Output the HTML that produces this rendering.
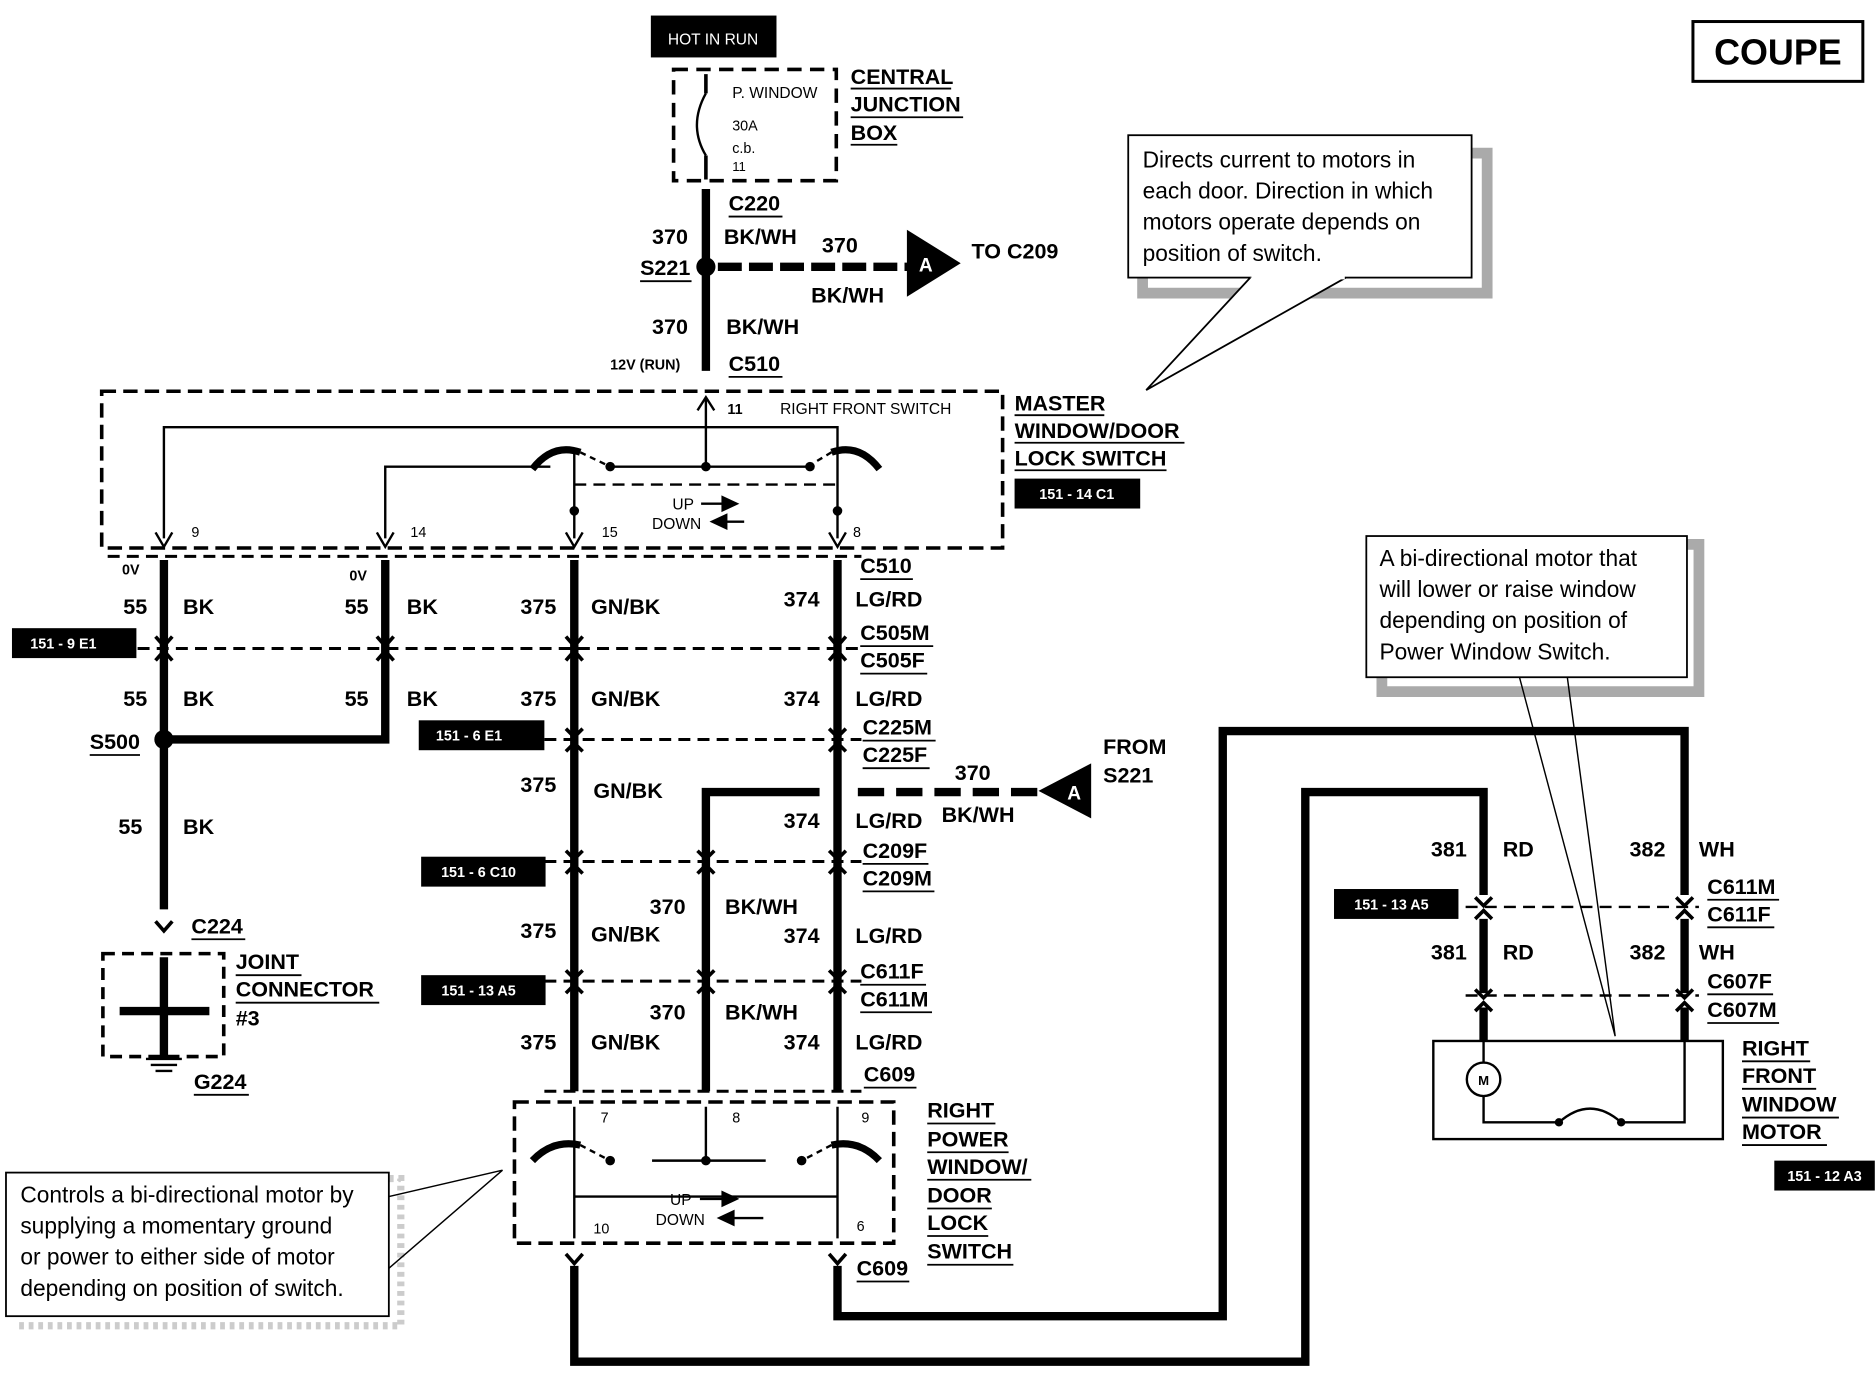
<!DOCTYPE html>
<html><head><meta charset="utf-8"><style>
html,body{margin:0;padding:0;background:#fff}
svg{display:block}
text{font-family:"Liberation Sans",Arial,sans-serif;font-weight:bold;fill:#000}
.n{font-weight:normal}
</style></head><body>
<svg width="1876" height="1376" viewBox="0 0 1568 1150" preserveAspectRatio="none" xmlns="http://www.w3.org/2000/svg">
<rect width="1568" height="1150" fill="#fff"/>
<rect x="1415" y="18" width="142" height="50" fill="none" stroke="#000" stroke-width="2.5"/>
<text x="1486" y="54" font-size="30" text-anchor="middle">COUPE</text>
<rect x="544" y="13" width="105" height="35" fill="#000"/>
<text x="596" y="37" font-size="13" style="fill:#fff" text-anchor="middle" class="n">HOT IN RUN</text>
<rect x="563" y="58" width="136" height="93" fill="none" stroke="#000" stroke-width="3" stroke-dasharray="12,7"/>
<path d="M590 62 L590 78 M590 130 L590 150" stroke="#000" stroke-width="3"/>
<path d="M590 78 Q575 105 590 130" stroke="#000" stroke-width="2" fill="none"/>
<text x="612" y="82" font-size="13" class="n">P. WINDOW</text>
<text x="612" y="109" font-size="12" class="n">30A</text>
<text x="612" y="128" font-size="12" class="n">c.b.</text>
<text x="612" y="143" font-size="11" class="n">11</text>
<text x="711" y="70" font-size="18">CENTRAL</text>
<text x="711" y="93" font-size="18">JUNCTION</text>
<text x="711" y="117" font-size="18">BOX</text>
<path d="M711 74H795M711 98H805M711 121H750" stroke="#000" stroke-width="1.5"/>
<path d="M590 158 V310" stroke="#000" stroke-width="7"/>
<circle cx="590" cy="223" r="8" fill="#000"/>
<path d="M600 223 H760" stroke="#000" stroke-width="7" stroke-dasharray="20,6"/>
<path d="M758 192 L803 220 L758 248Z" fill="#000"/>
<text x="768" y="227" font-size="16" style="fill:#fff">A</text>
<text x="812" y="216" font-size="18">TO C209</text>
<text x="609" y="176" font-size="18">C220</text>
<path d="M609 181H654" stroke="#000" stroke-width="1.5"/>
<text x="545" y="204" font-size="18">370</text>
<text x="605" y="204" font-size="18">BK/WH</text>
<text x="687" y="211" font-size="18">370</text>
<text x="678" y="253" font-size="18">BK/WH</text>
<text x="535" y="230" font-size="18">S221</text>
<path d="M535 235H578" stroke="#000" stroke-width="1.5"/>
<text x="545" y="279" font-size="18">370</text>
<text x="607" y="279" font-size="18">BK/WH</text>
<text x="510" y="309" font-size="12">12V (RUN)</text>
<text x="609" y="310" font-size="18">C510</text>
<path d="M609 315H654" stroke="#000" stroke-width="1.5"/>
<path d="M1230 128 L1243 128 L1243 245 L955 245 L955 232" fill="none" stroke="#aaa" stroke-width="9"/>
<rect x="943" y="113" width="287" height="119" fill="#fff" stroke="#000" stroke-width="1.5"/>
<path d="M1045 232 L958 326 L1125 232" fill="#fff" stroke="#000" stroke-width="1.5"/>
<path d="M1046 232 H1124" stroke="#fff" stroke-width="3"/>
<text x="955" y="140" font-size="19" class="n">Directs current to motors in</text>
<text x="955" y="166" font-size="19" class="n">each door. Direction in which</text>
<text x="955" y="192" font-size="19" class="n">motors operate depends on</text>
<text x="955" y="218" font-size="19" class="n">position of switch.</text>
<rect x="85" y="327" width="753" height="131" fill="none" stroke="#000" stroke-width="3" stroke-dasharray="12,6"/>
<path d="M590 333 V390" stroke="#000" stroke-width="2"/>
<path d="M583 343 L590 332 L597 343" fill="none" stroke="#000" stroke-width="2"/>
<text x="608" y="346" font-size="12">11</text>
<text x="652" y="346" font-size="13" class="n">RIGHT FRONT SWITCH</text>
<path d="M137 450 V357 H700 V380 M322 450 V390 H460 M510 390 H680 M480 378 V450 M700 380 V450" fill="none" stroke="#000" stroke-width="2"/>
<path d="M480 405 H700" stroke="#000" stroke-width="2" stroke-dasharray="10,6"/>
<path d="M445 392 Q462 370 485 378" stroke="#000" stroke-width="6" fill="none"/>
<path d="M485 378 L510 390" stroke="#000" stroke-width="2" stroke-dasharray="5,4"/>
<path d="M735 392 Q718 370 695 378" stroke="#000" stroke-width="6" fill="none"/>
<path d="M695 378 L675 390" stroke="#000" stroke-width="2" stroke-dasharray="5,4"/>
<circle cx="510" cy="390" r="4"/><circle cx="590" cy="390" r="4"/><circle cx="677" cy="390" r="4"/>
<circle cx="480" cy="427" r="4"/><circle cx="700" cy="427" r="4"/>
<path d="M130 445 L137 457 L144 445 M315 445 L322 457 L329 445 M473 445 L480 457 L487 445 M693 445 L700 457 L707 445" fill="none" stroke="#000" stroke-width="2"/>
<text x="562" y="426" font-size="13" class="n">UP</text>
<text x="545" y="442" font-size="13" class="n">DOWN</text>
<path d="M586 421 H605" stroke="#000" stroke-width="2"/><path d="M603 414 L618 421 L603 428Z"/>
<path d="M622 436 H607" stroke="#000" stroke-width="2"/><path d="M608 429 L593 436 L608 443Z"/>
<text x="160" y="449" font-size="12" class="n">9</text>
<text x="343" y="449" font-size="12" class="n">14</text>
<text x="503" y="449" font-size="12" class="n">15</text>
<text x="713" y="449" font-size="12" class="n">8</text>
<text x="848" y="343" font-size="18">MASTER</text>
<text x="848" y="366" font-size="18">WINDOW/DOOR</text>
<text x="848" y="389" font-size="18">LOCK SWITCH</text>
<path d="M848 347H923M848 370H990M848 393H975" stroke="#000" stroke-width="1.5"/>
<rect x="848" y="400" width="105" height="25" fill="#000"/>
<text x="900" y="417" font-size="12" style="fill:#fff" text-anchor="middle">151 - 14 C1</text>
<g stroke="#000" stroke-width="2.5" stroke-dasharray="10,6" fill="none">
<path d="M90 465 H720"/>
<path d="M115 542 H720"/>
<path d="M455 618 H720"/>
<path d="M455 720 H720"/>
<path d="M455 820 H720"/>
<path d="M455 912 H720"/>
</g>
<g stroke="#000" stroke-width="7" fill="none">
<path d="M137 468 V760"/>
<path d="M322 468 V618 H137"/>
<path d="M480 468 V912"/>
<path d="M700 468 V912"/>
<path d="M590 912 V662 H685"/>
</g>
<path d="M717 662 H868" stroke="#000" stroke-width="7" stroke-dasharray="22,10"/>
<path d="M912 638 L868 661 L912 684Z"/>
<text x="892" y="668" font-size="16" style="fill:#fff">A</text>
<text x="922" y="630" font-size="18">FROM</text>
<text x="922" y="654" font-size="18">S221</text>
<text x="798" y="652" font-size="18">370</text>
<text x="787" y="687" font-size="18">BK/WH</text>
<circle cx="137" cy="618" r="8"/>
<g stroke="#000" stroke-width="3" fill="none">
<path d="M130 532 L137 540 L144 532 M130 552 L137 544 L144 552"/>
<path d="M315 532 L322 540 L329 532 M315 552 L322 544 L329 552"/>
<path d="M473 532 L480 540 L487 532 M473 552 L480 544 L487 552"/>
<path d="M693 532 L700 540 L707 532 M693 552 L700 544 L707 552"/>
<path d="M473 609 L480 616 L487 609 M473 628 L480 621 L487 628"/>
<path d="M693 609 L700 616 L707 609 M693 628 L700 621 L707 628"/>
<path d="M473 711 L480 718 L487 711 M473 730 L480 723 L487 730"/>
<path d="M583 711 L590 718 L597 711 M583 730 L590 723 L597 730"/>
<path d="M693 711 L700 718 L707 711 M693 730 L700 723 L707 730"/>
<path d="M473 811 L480 818 L487 811 M473 830 L480 823 L487 830"/>
<path d="M583 811 L590 818 L597 811 M583 830 L590 823 L597 830"/>
<path d="M693 811 L700 818 L707 811 M693 830 L700 823 L707 830"/>
</g>
<g font-size="18">
<text x="102" y="480" font-size="12">0V</text>
<text x="292" y="485" font-size="12">0V</text>
<text x="103" y="513">55</text><text x="153" y="513">BK</text>
<text x="288" y="513">55</text><text x="340" y="513">BK</text>
<text x="435" y="513">375</text><text x="494" y="513">GN/BK</text>
<text x="655" y="507">374</text><text x="715" y="507">LG/RD</text>
<text x="719" y="479">C510</text>
<text x="719" y="535">C505M</text>
<text x="719" y="558">C505F</text>
<text x="103" y="590">55</text><text x="153" y="590">BK</text>
<text x="288" y="590">55</text><text x="340" y="590">BK</text>
<text x="435" y="590">375</text><text x="494" y="590">GN/BK</text>
<text x="655" y="590">374</text><text x="715" y="590">LG/RD</text>
<text x="721" y="614">C225M</text>
<text x="721" y="637">C225F</text>
<text x="75" y="626">S500</text>
<text x="99" y="697">55</text><text x="153" y="697">BK</text>
<text x="435" y="662">375</text><text x="496" y="667">GN/BK</text>
<text x="655" y="692">374</text><text x="715" y="692">LG/RD</text>
<text x="721" y="717">C209F</text>
<text x="721" y="740">C209M</text>
<text x="160" y="780">C224</text>
<text x="543" y="764">370</text><text x="606" y="764">BK/WH</text>
<text x="435" y="784">375</text><text x="494" y="787">GN/BK</text>
<text x="655" y="788">374</text><text x="715" y="788">LG/RD</text>
<text x="719" y="818">C611F</text>
<text x="719" y="841">C611M</text>
<text x="543" y="852">370</text><text x="606" y="852">BK/WH</text>
<text x="435" y="877">375</text><text x="494" y="877">GN/BK</text>
<text x="655" y="877">374</text><text x="715" y="877">LG/RD</text>
<text x="722" y="904">C609</text>
<text x="197" y="810">JOINT</text>
<text x="197" y="833">CONNECTOR</text>
<text x="197" y="857">#3</text>
<text x="162" y="910">G224</text>
</g>
<path d="M719 484H763M719 540H780M719 563H775M721 619H782M721 642H777M75 631H117M721 722H776M721 745H781M160 785H205M719 823H774M719 846H779M722 909H766M197 815H252M197 838H317M162 915H208" stroke="#000" stroke-width="1.5"/>
<g fill="#000">
<rect x="10" y="525" width="104" height="25"/>
<rect x="350" y="602" width="105" height="25"/>
<rect x="352" y="716" width="104" height="25"/>
<rect x="352" y="815" width="104" height="25"/>
<rect x="1115" y="743" width="104" height="25"/>
<rect x="1483" y="970" width="84" height="25"/>
</g>
<g font-size="12" text-anchor="middle">
<text x="53" y="542" style="fill:#fff">151 - 9 E1</text>
<text x="392" y="619" style="fill:#fff">151 - 6 E1</text>
<text x="400" y="733" style="fill:#fff">151 - 6 C10</text>
<text x="400" y="832" style="fill:#fff">151 - 13 A5</text>
<text x="1163" y="760" style="fill:#fff">151 - 13 A5</text>
<text x="1525" y="987" style="fill:#fff">151 - 12 A3</text>
</g>
<rect x="86" y="797" width="101" height="86" fill="none" stroke="#000" stroke-width="3" stroke-dasharray="10,6"/>
<path d="M137 800 V885 M100 845 H175" stroke="#000" stroke-width="7"/>
<path d="M130 770 L137 778 L144 770" stroke="#000" stroke-width="3" fill="none"/>
<path d="M122 885 H152 M126 890 H148 M130 895 H144" stroke="#000" stroke-width="2"/>
<rect x="430" y="921" width="317" height="118" fill="none" stroke="#000" stroke-width="3" stroke-dasharray="12,6"/>
<path d="M480 925 V1035 M700 925 V1035 M590 925 V970 M545 970 H640 M480 1000 H700" stroke="#000" stroke-width="2" fill="none"/>
<path d="M445 970 Q462 952 485 957" stroke="#000" stroke-width="6" fill="none"/>
<path d="M485 957 L510 970" stroke="#000" stroke-width="2" stroke-dasharray="5,4"/>
<path d="M735 970 Q718 952 695 957" stroke="#000" stroke-width="6" fill="none"/>
<path d="M695 957 L670 970" stroke="#000" stroke-width="2" stroke-dasharray="5,4"/>
<circle cx="510" cy="970" r="4"/><circle cx="590" cy="970" r="4"/><circle cx="670" cy="970" r="4"/>
<text x="502" y="938" font-size="12" class="n">7</text>
<text x="612" y="938" font-size="12" class="n">8</text>
<text x="720" y="938" font-size="12" class="n">9</text>
<text x="496" y="1031" font-size="12" class="n">10</text>
<text x="716" y="1029" font-size="12" class="n">6</text>
<text x="560" y="1007" font-size="13" class="n">UP</text>
<text x="548" y="1024" font-size="13" class="n">DOWN</text>
<path d="M585 1002 H605" stroke="#000" stroke-width="2"/><path d="M603 995 L618 1002 L603 1009Z"/>
<path d="M638 1018 H613" stroke="#000" stroke-width="2"/><path d="M614 1011 L599 1018 L614 1025Z"/>
<g font-size="18">
<text x="775" y="934">RIGHT</text>
<text x="775" y="958">POWER</text>
<text x="775" y="981">WINDOW/</text>
<text x="775" y="1005">DOOR</text>
<text x="775" y="1028">LOCK</text>
<text x="775" y="1052">SWITCH</text>
<text x="716" y="1066">C609</text>
</g>
<path d="M775 939H832M775 963H843M775 986H862M775 1010H829M775 1033H826M775 1057H847M716 1071H760" stroke="#000" stroke-width="1.5"/>
<path d="M473 1048 L480 1056 L487 1048 M693 1048 L700 1056 L707 1048" stroke="#000" stroke-width="3" fill="none"/>
<g stroke="#000" stroke-width="7" fill="none">
<path d="M480 1058 V1138 H1091 V662 H1240 V748"/>
<path d="M700 1058 V1100 H1022 V611 H1408 V748"/>
<path d="M1240 768 V830 M1240 842 V870"/>
<path d="M1408 768 V830 M1408 842 V870"/>
</g>
<path d="M1225 758 H1420 M1225 832 H1420" stroke="#000" stroke-width="2" stroke-dasharray="10,6"/>
<path d="M1233 750 L1240 757 L1247 750 M1233 768 L1240 761 L1247 768 M1401 750 L1408 757 L1415 750 M1401 768 L1408 761 L1415 768 M1233 827 L1240 834 L1247 827 M1233 845 L1240 838 L1247 845 M1401 827 L1408 834 L1415 827 M1401 845 L1408 838 L1415 845" stroke="#000" stroke-width="3" fill="none"/>
<g font-size="18">
<text x="1196" y="716">381</text><text x="1256" y="716">RD</text>
<text x="1362" y="716">382</text><text x="1420" y="716">WH</text>
<text x="1196" y="802">381</text><text x="1256" y="802">RD</text>
<text x="1362" y="802">382</text><text x="1420" y="802">WH</text>
<text x="1427" y="747">C611M</text>
<text x="1427" y="770">C611F</text>
<text x="1427" y="826">C607F</text>
<text x="1427" y="850">C607M</text>
<text x="1456" y="882">RIGHT</text>
<text x="1456" y="905">FRONT</text>
<text x="1456" y="929">WINDOW</text>
<text x="1456" y="952">MOTOR</text>
</g>
<path d="M1427 752H1487M1427 775H1483M1427 831H1482M1427 855H1487M1456 887H1513M1456 910H1518M1456 934H1537M1456 957H1527" stroke="#000" stroke-width="1.5"/>
<rect x="1198" y="870" width="242" height="82" fill="none" stroke="#000" stroke-width="2"/>
<circle cx="1240" cy="902" r="14" fill="#fff" stroke="#000" stroke-width="2"/>
<text x="1240" y="907" font-size="11" text-anchor="middle">M</text>
<path d="M1240 870 V888 M1240 916 V938 H1303 M1355 938 H1408 V870" stroke="#000" stroke-width="2" fill="none"/>
<path d="M1303 938 Q1329 915 1355 938" stroke="#000" stroke-width="2" fill="none"/>
<circle cx="1303" cy="938" r="3.5"/><circle cx="1355" cy="938" r="3.5"/>
<path d="M1410 455 L1420 455 L1420 578 L1155 578 L1155 566" fill="none" stroke="#aaa" stroke-width="9"/>
<rect x="1142" y="448" width="268" height="118" fill="#fff" stroke="#000" stroke-width="1.5"/>
<path d="M1270 566 L1350 866 L1310 566" fill="none" stroke="#000" stroke-width="1.2"/>
<text x="1153" y="473" font-size="19" class="n">A bi-directional motor that</text>
<text x="1153" y="499" font-size="19" class="n">will lower or raise window</text>
<text x="1153" y="525" font-size="19" class="n">depending on position of</text>
<text x="1153" y="551" font-size="19" class="n">Power Window Switch.</text>
<path d="M325 985 L335 985 L335 1108 L12 1108" fill="none" stroke="#ccc" stroke-width="6" stroke-dasharray="4,4"/>
<rect x="5" y="980" width="320" height="120" fill="#fff" stroke="#000" stroke-width="1.5"/>
<path d="M325 1000 L420 978 L325 1060" fill="none" stroke="#000" stroke-width="1.2"/>
<text x="17" y="1005" font-size="19" class="n">Controls a bi-directional motor by</text>
<text x="17" y="1031" font-size="19" class="n">supplying a momentary ground</text>
<text x="17" y="1057" font-size="19" class="n">or power to either side of motor</text>
<text x="17" y="1083" font-size="19" class="n">depending on position of switch.</text>
</svg>
</body></html>
